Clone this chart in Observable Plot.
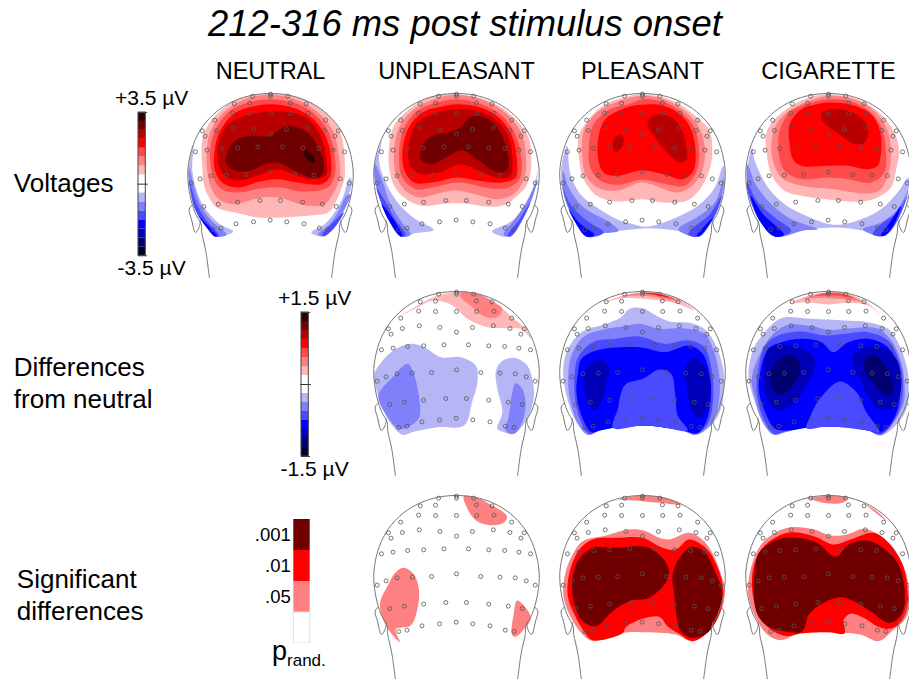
<!DOCTYPE html>
<html><head><meta charset="utf-8">
<script src="https://cdn.jsdelivr.net/npm/d3@7"></script>
<script src="https://cdn.jsdelivr.net/npm/@observablehq/plot@0.6"></script>
<style>
html,body{margin:0;padding:0;background:#fff;overflow:hidden}
#page{position:relative;width:909px;height:679px;font-family:"Liberation Sans",Arial,sans-serif;color:#000;overflow:hidden}
#title{position:absolute;left:0;top:-2px;width:930px;height:52px;line-height:52px;text-align:center;font-style:italic;font-size:36.4px}
.layer{position:absolute}
#prand{position:absolute;left:272px;top:636px;font-size:27px;line-height:30px}
#prand sub{font-size:17px;line-height:0}
</style></head><body>
<div id="page"><div id="title">212-316 ms post stimulus onset</div><div id="prand">p<sub>rand.</sub></div></div>
<script>
const conditions = ["NEUTRAL","UNPLEASANT","PLEASANT","CIGARETTE"];
const rows = ["Voltages","Differences from neutral","Significant differences"];
const rowLabelLines = ["Voltages","Differences\nfrom neutral","Significant\ndifferences"];

// contour band keys, and the map colours of the bands
const bandKeys = ["r7","r6","r5","r4","r3","r2","r1","w","b1","b2","b3","b4","b5","b6","b7"];
const bandColors = ["#2e0000","#700000","#b80000","#ff0000","#ff4a4a","#ff8080","#ffb6b6","#ffffff","#b6b6f6","#8080fa","#4a4aff","#0000ff","#0000b8","#000070","#00002e"];

// electrode sites, read in units of 1/3 pixel (origin 507,38)
const electrodes = [[507,40],[507,46],[453,46],[559,46],[398,69],[444,67],[567,66],[614,69],[393,97],[444,98],[507,98],[568,98],[620,97],[339,118],[673,118],[302,150],[310,166],[344,149],[395,141],[457,146],[507,160],[555,146],[618,141],[668,149],[701,166],[711,150],[281,213],[316,208],[360,203],[408,201],[469,198],[543,198],[604,201],[652,203],[695,208],[730,213],[268,307],[295,294],[328,285],[374,283],[432,281],[507,273],[580,281],[638,283],[684,285],[717,294],[744,307],[306,377],[350,370],[408,364],[475,359],[537,359],[604,364],[663,370],[705,377],[333,446],[358,442],[403,429],[456,423],[506,418],[556,423],[608,429],[654,442],[680,446]];

// head outline, left half, from the neck to the crown
const headProfile = [[-184,552],[-195,472],[-207,417],[-209,392],[-227,357],[-242,307],[-249,252],[-247,212],[-232,152],[-205,100],[-162,54],[-109,22],[-54,5],[0,0]];
const earProfile = [[-235,334],[-245,347],[-238,377],[-226,417],[-215,402],[-211,382]];

// iso-contour outlines of each map: [band, x,y, x,y, ...]
const neutralVoltage = [
["b1",275,195,262,250,262,310,280,385,315,440,340,467,395,452,355,430,306,377,285,330,272,270],
["b2",262,260,262,310,280,385,315,440,340,467,375,462,330,420,295,370,275,310],
["b3",263,300,280,385,315,440,340,467,352,465,315,420,285,370],
["b4",290,405,315,440,340,467,346,466,310,425],
["b1",752,300,742,345,720,400,695,440,665,467,630,455,670,430,700,395,725,350,745,290],
["b2",748,340,725,395,695,445,668,466,650,460,685,430,715,385,735,345],
["b3",728,395,700,440,668,466,662,462,695,425],
["r1",507,39,600,52,660,85,700,125,722,170,730,230,730,290,718,330,700,370,680,395,620,405,540,410,470,410,400,395,345,380,322,350,306,310,302,260,300,190,310,150,340,105,390,65,445,45],
["r2",507,42,590,58,650,95,695,150,712,220,715,290,700,330,670,370,610,373,540,352,480,350,400,370,355,358,330,325,318,280,315,215,325,155,365,95,430,55],
["r3",507,55,585,68,640,100,680,150,700,220,700,285,680,320,600,332,540,320,480,322,410,335,360,325,335,290,325,215,340,150,385,90,440,65],
["r4",507,70,580,82,630,110,670,160,688,220,685,290,660,310,590,305,530,295,470,303,410,320,365,308,340,270,340,200,355,150,395,100,450,78],
["r5",507,92,570,95,620,115,655,160,675,230,672,285,630,295,575,280,530,265,480,280,420,298,375,290,350,250,350,190,375,135,430,105],
["r6",550,137,590,140,625,160,650,200,668,250,660,285,630,290,580,270,530,245,490,250,445,270,400,270,375,250,375,220,400,180,450,165,505,165],
["r7",612,210,630,218,640,235,638,247,622,240,610,225]
];
const unpleasantVoltage = [
["b1",48,180,25,265,35,330,65,410,105,467,145,458,205,447,150,415,100,370,60,305,40,240],
["b2",28,250,25,275,35,330,65,410,105,467,135,462,105,420,70,360,50,300],
["b3",32,320,65,410,105,467,120,463,85,410,55,355],
["b4",48,370,70,420,105,467,110,465,80,410],
["b1",518,270,508,330,480,400,435,467,380,452,440,420,485,370,510,300],
["b2",518,295,505,340,480,400,435,467,415,462,445,420,480,370,505,320],
["b3",495,365,475,410,435,467,428,463,460,420],
["r1",273,40,370,60,440,105,490,170,498,230,495,280,480,320,450,350,420,372,370,378,300,368,240,368,170,375,115,350,85,315,70,260,70,200,85,135,125,90,190,50],
["r2",273,42,360,60,425,100,470,160,482,230,478,290,450,335,400,355,330,340,270,328,210,340,160,350,115,325,90,280,85,210,100,140,145,85,205,55],
["r3",273,55,350,70,410,105,450,160,468,230,465,290,430,320,370,322,280,305,200,320,150,325,110,290,100,230,112,150,155,90,215,65],
["r4",273,70,345,80,400,110,440,165,455,235,450,290,410,305,340,300,275,290,200,305,145,305,115,265,112,195,135,130,180,90,225,78],
["r5",273,85,340,92,395,120,430,170,442,235,435,285,400,292,340,270,285,250,220,275,165,280,132,250,130,190,150,130,200,100],
["r6",335,105,375,120,405,155,425,210,430,255,415,275,385,270,340,240,290,208,250,225,200,250,165,235,172,190,200,165,250,155,285,140,305,115]
];
const pleasantVoltage = [
["b1",50,195,60,280,90,340,140,380,200,415,250,430,290,438,340,425,400,400,450,370,495,320,520,255,525,300,510,370,480,430,445,468,380,450,295,442,210,450,155,458,110,468,70,415,40,340,32,270],
["b2",38,270,55,320,100,380,170,420,205,450,155,458,110,468,70,415,40,340],
["b2",522,290,495,365,440,410,385,445,445,468,480,430,510,370],
["b3",35,315,60,370,110,420,160,455,110,468,70,415],
["b3",515,345,480,400,430,440,415,460,445,468,480,430,505,380],
["b4",55,385,85,425,132,462,110,468,75,425],
["b4",490,410,460,440,440,465,450,465,475,435],
["r1",277,40,365,58,430,100,478,150,487,215,478,270,450,325,410,360,340,365,277,355,200,362,140,345,100,295,85,225,85,165,115,115,165,70,220,50],
["r2",277,45,350,58,410,95,450,145,465,210,455,275,420,320,380,335,277,305,200,330,140,320,105,280,95,210,100,150,140,95,210,60],
["r3",277,55,345,65,400,100,435,145,447,210,440,270,405,315,350,310,275,297,205,312,150,300,120,260,115,200,130,130,180,85,235,70],
["r4",270,72,340,75,395,105,425,150,437,215,430,270,400,295,340,280,275,268,200,285,160,275,143,230,145,165,165,115,215,85],
["r5",325,100,365,110,395,145,410,200,410,235,390,245,355,220,315,170,292,135,300,110],
["r5",205,162,220,172,215,198,195,215,188,200,192,175]
];
const cigaretteVoltage = [
["b1",52,200,60,240,100,320,150,370,215,405,265,425,310,432,380,415,440,385,490,335,522,290,522,330,490,420,450,465,390,450,300,440,210,448,120,467,75,420,40,330,38,270],
["b2",38,250,65,315,115,375,170,415,250,445,210,448,120,467,75,420,40,330],
["b2",522,330,490,385,440,425,385,445,450,465,490,420],
["b3",36,305,70,365,120,410,170,450,120,467,75,420,42,345],
["b3",520,345,490,395,440,430,415,460,450,465,485,425],
["b4",48,345,85,400,148,462,120,467,75,420],
["b4",500,375,470,420,440,465,450,465,480,430],
["r1",282,40,370,55,440,100,480,155,495,210,487,260,470,320,430,350,380,362,300,358,200,345,150,330,110,280,95,210,95,155,125,110,180,70,230,48],
["r2",282,45,360,55,420,90,460,150,470,210,465,270,440,325,400,338,300,325,200,315,140,290,115,240,110,190,125,130,170,85,230,58],
["r3",282,55,350,62,410,95,445,150,455,215,450,275,410,305,340,295,280,290,200,295,150,270,132,215,135,150,165,95,220,68],
["r4",282,65,350,72,410,100,437,150,440,215,430,255,400,265,340,255,280,255,200,255,175,235,165,190,165,130,200,85,240,72],
["r5",290,85,340,90,385,115,402,150,390,185,360,190,320,165,285,140,260,115,262,95]
];
const unpleasantDiff = [
["r1",388,92,440,60,500,30,557,20,620,25,680,58,730,100,765,130,782,160,750,130,710,128,650,125,590,100,545,60,490,45,440,65],
["r2",570,20,620,25,670,50,695,70,680,95,640,92,605,65,570,35],
["b1",310,265,335,225,375,190,420,175,460,185,510,215,570,215,615,240,620,290,605,345,580,420,500,425,430,438,395,448,360,415,335,370,315,310],
["b1",675,260,690,230,730,217,770,240,785,280,790,330,775,390,730,445,700,440,680,430,695,380,680,310],
["b2",322,330,365,275,410,235,430,270,445,340,445,395,420,420,385,430,350,395],
["b2",735,293,755,310,765,355,755,410,730,445,705,435,715,390,725,320]
];
const pleasantDiff = [
["r1",165,50,230,28,280,20,340,25,395,45,435,75,385,55,330,45,280,40,220,38],
["r2",215,33,280,22,340,28,390,48,335,38,280,30],
["r3",270,22,335,28,380,42,320,30],
["r4",280,21,330,26,370,38,320,28],
["b1",215,95,240,70,280,68,320,90,360,108,420,112,465,130,495,170,520,240,525,300,515,370,490,415,440,448,400,435,340,425,280,420,200,425,150,435,115,448,80,410,50,330,40,250,55,190,95,140,160,118],
["b2",225,122,270,115,330,130,400,128,465,145,495,200,510,270,510,340,490,410,440,448,400,435,340,425,280,420,200,425,150,435,115,448,85,415,65,360,55,290,65,210,100,155,170,130],
["b3",85,215,130,170,200,160,270,153,345,175,420,165,465,185,485,240,492,340,475,415,440,445,400,435,340,425,280,420,200,425,150,435,118,445,90,400,75,330,75,260],
["b4",95,220,140,195,270,185,345,200,420,180,460,205,480,260,485,340,470,410,445,443,400,435,340,425,280,420,200,425,150,435,125,440,95,390,80,320,85,260],
["b3",230,295,280,280,330,252,365,265,378,330,385,390,415,435,340,425,280,420,190,427,205,370,215,320],
["b5",120,235,150,222,178,245,170,295,155,350,135,375,115,350,100,300,105,260],
["b5",410,240,430,218,460,235,483,290,475,360,450,400,425,370,415,320,410,280]
];
const cigaretteDiff = [
["r1",170,52,230,28,282,20,340,25,395,50,440,90,400,60,340,52,280,57,220,50],
["r2",205,40,282,22,340,30,385,50,340,42,280,38,240,38],
["r3",240,30,282,22,330,26,360,38,300,30],
["b1",125,105,150,95,230,100,330,105,400,110,460,130,495,180,518,250,522,290,520,350,500,400,440,450,400,435,340,425,280,423,200,428,150,440,115,448,80,400,50,320,40,270,55,190,85,145],
["b2",110,150,160,118,230,122,285,133,350,128,430,130,470,165,500,230,510,300,505,360,440,448,400,435,340,425,280,423,200,428,150,440,115,447,80,405,60,340,50,280,75,205],
["b3",70,250,90,180,130,150,200,138,270,150,330,145,400,140,460,165,495,230,505,300,490,385,440,447,400,435,340,425,280,423,200,428,150,438,118,445,85,400,65,320],
["b4",75,260,100,190,140,170,200,160,260,170,295,200,340,170,400,160,460,185,490,240,497,320,480,395,440,440,400,435,345,425,280,423,230,425,150,435,120,430,90,380,72,320],
["b3",225,395,255,340,315,288,365,320,395,380,435,440,400,435,280,423,215,428],
["b5",100,190,135,178,190,185,235,210,240,250,215,300,170,360,130,375,95,340,85,290,90,230],
["b5",355,210,385,190,440,185,485,220,500,280,495,330,470,370,430,370,395,320,370,270,355,240],
["b6",130,225,160,208,190,225,195,260,175,300,140,328,110,310,105,265],
["b6",390,225,410,208,440,225,470,280,475,320,450,328,415,290,390,255]
];
const unpleasantSig = [
["r2",640,30,680,35,720,55,770,90,760,110,725,117,680,105,655,75],
["r2",460,245,490,265,505,310,500,370,480,418,435,430,448,468,420,440,395,395,388,350,410,300,435,258],
["r2",800,343,815,352,842,395,825,425,795,452,785,445,790,385]
];
const pleasantSig = [
["r2",210,40,280,28,350,35,395,55,330,50,280,45],
["r2",100,165,170,148,240,130,290,135,330,155,360,160,420,140,460,160,490,200,515,260,528,310,515,380,470,440,430,465,380,445,280,438,220,440,130,465,95,440,65,395,42,330,48,260,70,205],
["r4",90,190,130,160,200,155,280,155,340,185,380,190,420,160,470,185,500,230,520,290,522,340,505,400,470,445,430,465,390,443,355,420,330,392,260,405,228,425,222,440,130,462,100,430,75,385,55,330,60,260],
["r6",130,185,200,185,290,182,340,215,360,255,350,290,300,335,240,345,190,375,140,420,100,405,75,355,68,290,85,225],
["r6",370,270,385,225,425,183,465,195,500,260,520,320,505,390,475,440,430,455,395,435,380,370,375,320]
];
const cigaretteSig = [
["r2",225,38,284,29,340,35,330,48,285,52,250,45],
["r2",395,55,430,75,460,105,420,75],
["r2",55,230,90,165,160,125,240,130,290,148,340,145,390,128,440,150,480,190,510,240,525,300,520,390,480,430,435,465,380,445,285,438,200,440,140,462,100,445,65,395,42,320],
["r4",60,235,90,180,160,140,240,150,300,175,350,160,420,140,470,175,505,230,520,290,520,370,495,415,465,428,430,420,390,395,352,382,330,400,332,442,285,438,200,442,160,450,110,430,75,385,55,320],
["r6",60,280,75,200,130,160,190,155,250,170,305,212,345,175,400,163,455,190,495,235,512,300,510,370,490,400,465,410,410,375,360,345,320,333,270,350,225,385,205,435,150,435,100,420,70,385,60,340]
];

// which outlines belong to which cell, and where each trace's head centre and crown fall
const panels = [
 {col:0,row:0,cx:507,top:38,bands:neutralVoltage},
 {col:1,row:0,cx:273,top:38,bands:unpleasantVoltage},
 {col:2,row:0,cx:277,top:38,bands:pleasantVoltage},
 {col:3,row:0,cx:282,top:38,bands:cigaretteVoltage},
 {col:1,row:1,cx:557,top:18,bands:unpleasantDiff},
 {col:2,row:1,cx:279,top:18,bands:pleasantDiff},
 {col:3,row:1,cx:281,top:18,bands:cigaretteDiff},
 {col:1,row:2,cx:618,top:28,bands:unpleasantSig},
 {col:2,row:2,cx:280,top:28,bands:pleasantSig},
 {col:3,row:2,cx:284,top:28,bands:cigaretteSig}
];

const contourRows = [], siteRows = [], headRows = [];
panels.forEach((p,pi)=>{
  const fx = conditions[p.col], fy = rows[p.row];
  p.bands.forEach((b,bi)=>{
    for(let i=1;i<b.length;i+=2) contourRows.push({fx,fy,row:p.row,id:`${pi}-${bi}`,band:b[0],x:b[i]-p.cx,y:b[i+1]-p.top});
  });
  electrodes.forEach(([x,y])=>siteRows.push({fx,fy,row:p.row,x:x-507,y:y-38}));
  const right = headProfile.slice(0,-1).reverse().map(([x,y])=>[-x,y]);
  [...headProfile,...right].forEach(([x,y])=>headRows.push({fx,fy,row:p.row,id:`${pi}-h`,x,y}));
  earProfile.forEach(([x,y])=>headRows.push({fx,fy,row:p.row,id:`${pi}-l`,x,y}));
  earProfile.forEach(([x,y])=>headRows.push({fx,fy,row:p.row,id:`${pi}-r`,x:-x,y}));
});

const rowShift = [0,-3,0];
const marks = [];
rows.forEach((_,r)=>{
  marks.push(Plot.line(contourRows.filter(d=>d.row===r),{x:"x",y:"y",z:"id",fx:"fx",fy:"fy",fill:"band",stroke:"none",curve:"catmull-rom-closed",dy:rowShift[r]}));
  marks.push(Plot.line(headRows.filter(d=>d.row===r),{x:"x",y:"y",z:"id",fx:"fx",fy:"fy",stroke:"#777",strokeWidth:1,curve:"catmull-rom",dy:rowShift[r]}));
  marks.push(Plot.dot(siteRows.filter(d=>d.row===r),{x:"x",y:"y",fx:"fx",fy:"fy",r:2,stroke:"#555",strokeWidth:0.8,fill:"none",dy:rowShift[r]}));
});
const labelDy = [-12.5,-13.5,-2], labelDx = [-163.7,-163.7,-160.7];
rows.forEach((row,r)=>{
  marks.push(Plot.text([rowLabelLines[r]],{fx:()=>conditions[0],fy:()=>row,text:d=>d,frameAnchor:"left",textAnchor:"start",dx:labelDx[r],dy:labelDy[r],fontSize:26,lineHeight:1.23,fill:"#000"}));
});
marks.push(Plot.axisFx({anchor:"top",label:null,tickSize:0,tickPadding:15,fontSize:23.5,fill:"#000"}));

const main = Plot.plot({
  width:909,height:627,
  marginLeft:175.67,marginRight:-13.33,marginTop:41,marginBottom:-17,
  style:{fontFamily:"'Liberation Sans',Arial,sans-serif",background:"transparent",overflow:"hidden"},
  fx:{domain:conditions,padding:0,axis:null},
  fy:{domain:rows,padding:0,axis:null},
  x:{domain:[-280,280],axis:null},
  y:{domain:[0,603],reverse:true,axis:null},
  color:{type:"ordinal",domain:bandKeys,range:bandColors},
  marks
});
main.classList.add("layer");
main.style.left="0";main.style.top="52px";main.style.maxWidth="none";
document.getElementById("page").appendChild(main);

// voltage colour bars
const barBands = ["r7","r6","r5","r4","r3","r2","r1","w","w","b1","b2","b3","b4","b5","b6","b7"];
function voltageBar(maxV,left,top,barH){
  const step = 2*maxV/barBands.length;
  const cells = barBands.map((b,i)=>({band:b,y1:maxV-i*step,y2:maxV-(i+1)*step}));
  const svg = Plot.plot({
    width:110,height:barH+60,marginLeft:40,marginRight:62.7,marginTop:30,marginBottom:30,
    style:{fontFamily:"'Liberation Sans',Arial,sans-serif",background:"transparent"},
    x:{domain:[0,1],axis:null},
    y:{domain:[-maxV,maxV],axis:null},
    color:{type:"ordinal",domain:bandKeys,range:bandColors},
    marks:[
      Plot.rectY(cells,{x1:0,x2:1,y1:"y1",y2:"y2",fill:"band"}),
      Plot.rectY([maxV],{x1:0,x2:1,y1:-maxV,y2:maxV,stroke:"#444",strokeWidth:1,fill:"none"}),
      Plot.ruleY([-maxV,maxV],{x1:0,x2:1.25,stroke:"#444",strokeWidth:1}),
      Plot.ruleY([0],{x1:-0.1,x2:1.35,stroke:"#333",strokeWidth:1}),
      Plot.text([maxV],{x:1.8,y:d=>d,dy:-14.2,text:d=>"+"+d.toFixed(1)+" µV",fontSize:21,fill:"#000"}),
      Plot.text([-maxV],{x:1.8,y:d=>d,dy:12.7,text:d=>d.toFixed(1)+" µV",fontSize:21,fill:"#000"})
    ]
  });
  svg.classList.add("layer");
  svg.style.left=(left-40)+"px";svg.style.top=(top-30)+"px";svg.style.maxWidth="none";
  document.getElementById("page").appendChild(svg);
}
voltageBar(3.5,137.7,111.7,143.3);
voltageBar(1.5,301.3,311.7,144);

// significance bar
const pLevels = [".001",".01",".05",""];
const pBands = ["r6","r4","r2","w"];
const pbar = Plot.plot({
  width:80,height:124,marginLeft:43.3,marginRight:20.3,marginTop:0,marginBottom:0,
  style:{fontFamily:"'Liberation Sans',Arial,sans-serif",background:"transparent"},
  x:{axis:null},
  y:{domain:pLevels,padding:0,axis:null},
  color:{type:"ordinal",domain:bandKeys,range:bandColors},
  marks:[
    Plot.cell(pLevels,{y:d=>d,fill:(d,i)=>pBands[i],stroke:(d,i)=>i===3?"#ddd":"none"}),
    Plot.axisY({anchor:"left",label:null,tickSize:0,tickPadding:3,fontSize:18.5,fill:"#000",tickFormat:d=>d})
  ]
});
pbar.classList.add("layer");
pbar.style.left="250px";pbar.style.top="519px";pbar.style.maxWidth="none";
document.getElementById("page").appendChild(pbar);
</script>
</body></html>
